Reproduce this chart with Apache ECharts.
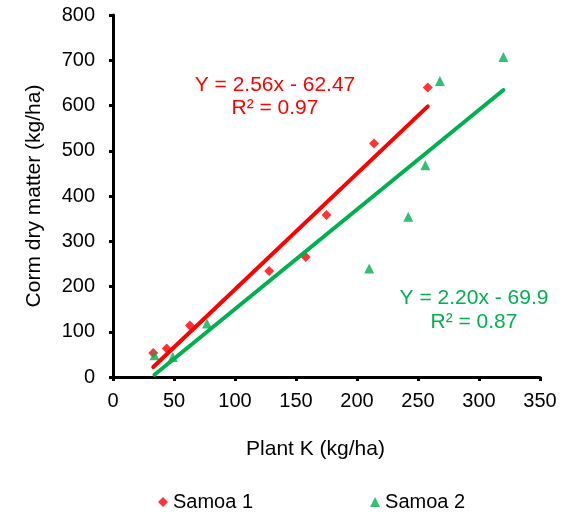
<!DOCTYPE html>
<html>
<head>
<meta charset="utf-8">
<script src="https://cdn.jsdelivr.net/npm/echarts@6/dist/echarts.min.js"></script>
<style>
  html, body { margin: 0; padding: 0; background: #fff; }
  #chart { width: 571px; height: 514px; }
</style>
</head>
<body>
<div id="chart"></div>
<script>
// Plant K uptake (kg/ha) vs. corm dry matter (kg/ha), two Samoa sites
const samoa1K = [33, 44, 63, 128, 158, 175, 214, 258];
const samoa1DM = [53, 63, 114, 234, 265, 358, 516, 640];
const samoa2K = [34, 49, 77, 210, 242, 256, 268, 320];
const samoa2DM = [48, 44, 118, 240, 354, 468, 654, 707];

// Linear fits: slope, intercept, R²
const fit1 = { slope: 2.56, intercept: -62.47, r2: '0.97', label: 'Y = 2.56x - 62.47' };
const fit2 = { slope: 2.20, intercept: -69.9, r2: '0.87', label: 'Y = 2.20x - 69.9' };

const seriesNames = ['Samoa 1', 'Samoa 2'];
const xTicks = { min: 0, max: 350, step: 50 };
const yTicks = { min: 0, max: 800, step: 100 };

const RED = '#ff0000';
const GREEN = '#00b050';
const FONT = '"Liberation Sans", Arial, sans-serif';

function pairs(xs, ys) { return xs.map((x, i) => [x, ys[i]]); }
function fitLine(xs, f) {
  const lo = Math.min(...xs), hi = Math.max(...xs);
  return [[lo, f.slope * lo + f.intercept], [hi, f.slope * hi + f.intercept]];
}

const chart = echarts.init(document.getElementById('chart'));
const axisCommon = {
  axisLine: { lineStyle: { color: '#000', width: 3 } },
  axisTick: { show: true, length: 4, lineStyle: { color: '#000', width: 3 } },
  axisLabel: { color: '#000', fontSize: 20, fontFamily: FONT },
  splitLine: { show: false },
  nameLocation: 'middle',
  nameTextStyle: { color: '#000', fontSize: 21, fontFamily: FONT }
};

chart.setOption({
  animation: false,
  backgroundColor: '#fff',
  textStyle: { fontFamily: FONT },
  grid: { left: 113, right: 31, top: 15, bottom: 137, containLabel: false },
  xAxis: Object.assign({}, axisCommon, {
    type: 'value', min: xTicks.min, max: xTicks.max, interval: xTicks.step,
    name: 'Plant K (kg/ha)', nameGap: 62,
    nameTextStyle: Object.assign({}, axisCommon.nameTextStyle, { padding: [0, 22, 0, 0] }),
    axisLabel: Object.assign({}, axisCommon.axisLabel, { margin: 14 })
  }),
  yAxis: Object.assign({}, axisCommon, {
    type: 'value', min: yTicks.min, max: yTicks.max, interval: yTicks.step,
    name: 'Corm dry matter (kg/ha)', nameGap: 68,
    axisLabel: Object.assign({}, axisCommon.axisLabel, { margin: 18 })
  }),
  legend: {
    data: seriesNames,
    left: 153, top: 487,
    itemWidth: 10, itemHeight: 10, itemGap: 117,
    textStyle: { color: '#000', fontSize: 20, fontFamily: FONT }
  },
  series: [
    {
      name: seriesNames[0], type: 'scatter', symbol: 'diamond', symbolSize: 10,
      itemStyle: { color: RED }, data: pairs(samoa1K, samoa1DM), z: 2
    },
    {
      name: seriesNames[1], type: 'scatter', symbol: 'triangle', symbolSize: 10,
      itemStyle: { color: GREEN }, data: pairs(samoa2K, samoa2DM), z: 2
    },
    {
      name: 'fit2', type: 'line', symbol: 'none', silent: true, z: 3,
      lineStyle: { color: GREEN, width: 4, cap: 'round' }, data: fitLine(samoa2K, fit2)
    },
    {
      name: 'fit1', type: 'line', symbol: 'none', silent: true, z: 4,
      lineStyle: { color: RED, width: 4, cap: 'round' }, data: fitLine(samoa1K, fit1)
    }
  ],
  graphic: [
    { type: 'text', z: 10, x: 275, y: 97,
      style: { text: fit1.label + '\nR² = ' + fit1.r2, fill: RED, font: '21px ' + FONT,
               textAlign: 'center', textVerticalAlign: 'middle', lineHeight: 23 } },
    { type: 'text', z: 10, x: 474, y: 310,
      style: { text: fit2.label + '\nR² = ' + fit2.r2, fill: GREEN, font: '21px ' + FONT,
               textAlign: 'center', textVerticalAlign: 'middle', lineHeight: 24 } }
  ]
});
</script>
</body>
</html>
